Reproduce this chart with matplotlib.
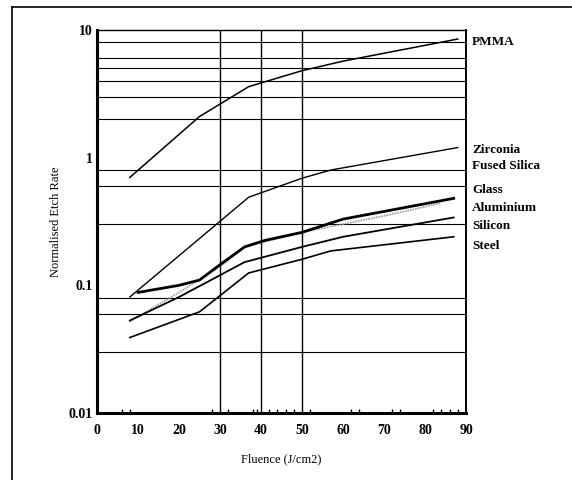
import matplotlib
matplotlib.use("Agg")
import matplotlib.pyplot as plt
from matplotlib.lines import Line2D

plt.rcParams['font.family'] = ['Liberation Serif', 'DejaVu Serif']

# fluence (J/cm2) and normalised etch rate
pmma_x = [8, 25, 37, 50, 60, 88]
pmma_y = [0.70, 2.1, 3.6, 4.8, 5.7, 8.5]

zirconia_x = [8, 37, 50, 57, 88]
zirconia_y = [0.081, 0.49, 0.69, 0.80, 1.2]

glass_x = [10, 20, 25, 30, 36, 41, 50, 60, 87]
glass_y = [0.088, 0.10, 0.11, 0.145, 0.20, 0.225, 0.26, 0.33, 0.48]

alu_x = [8, 20, 30, 36, 50, 70, 84]
alu_y = [0.052, 0.088, 0.14, 0.20, 0.26, 0.35, 0.44]

silicon_x = [8, 20, 36, 50, 60, 87]
silicon_y = [0.053, 0.081, 0.152, 0.20, 0.24, 0.34]

steel_x = [8, 25, 37, 50, 57, 87]
steel_y = [0.039, 0.062, 0.125, 0.16, 0.186, 0.24]

# the odd grid of the original figure
hgrid = [8, 6, 5, 4, 3, 2, 0.8, 0.6, 0.3, 0.08, 0.06, 0.03]
vgrid = [30, 40, 50]
minor_x = [6, 8, 28, 32, 38, 39, 42, 44, 46, 48, 52, 62, 64, 72, 74, 82, 84, 86, 88]

labels = ["PMMA", "Zirconia", "Fused Silica", "Glass", "Aluminium", "Silicon", "Steel"]
label_y = [42, 150, 166, 190, 208, 226, 246]  # pixel rows of the side labels

fig = plt.figure(figsize=(5.72, 4.80), dpi=100)
ax = fig.add_axes([97 / 572, 1 - 413 / 480, (466 - 97) / 572, (413 - 30) / 480])

for v in hgrid:
    ax.axhline(v, color='black', lw=0.8, zorder=1)
for v in vgrid:
    ax.axvline(v, color='black', lw=1.0, zorder=1)

ax.plot(pmma_x, pmma_y, color='black', lw=1.1, zorder=3)
ax.plot(zirconia_x, zirconia_y, color='black', lw=1.0, zorder=3)
ax.plot(alu_x, alu_y, color='#9a9a9a', lw=1.2, ls=(0, (1, 0.6)), zorder=3)
ax.plot(glass_x, glass_y, color='black', lw=2.0, zorder=4)
ax.plot(silicon_x, silicon_y, color='black', lw=1.3, zorder=3)
ax.plot(steel_x, steel_y, color='black', lw=1.2, zorder=3)

ax.set_yscale('log')
ax.set_xlim(0, 90)
ax.set_ylim(0.01, 10)
ax.set_xticks(range(0, 91, 10))
ax.set_xticks(minor_x, minor=True)
ax.set_yticks([0.01, 0.1, 1, 10])
ax.set_yticklabels(['0.01', '0.1', '1', '10'])
ax.yaxis.set_minor_locator(matplotlib.ticker.NullLocator())
ax.tick_params(axis='x', which='major', length=0, pad=8, labelsize=10)
ax.tick_params(axis='x', which='minor', direction='in', length=3, width=1)
ax.tick_params(axis='y', length=0, pad=3, labelsize=10)
for t in ax.get_xticklabels() + ax.get_yticklabels():
    t.set_fontweight('bold')

ax.spines['left'].set_linewidth(2.2)
ax.spines['bottom'].set_linewidth(2.2)
ax.spines['right'].set_linewidth(1.4)
ax.spines['top'].set_linewidth(1.0)

ax.set_xlabel('Fluence (J/cm2)', fontsize=9, labelpad=12)
ax.set_ylabel('Normalised Etch Rate', fontsize=9, labelpad=5)

for name, py in zip(labels, label_y):
    fig.text(472 / 572, 1 - py / 480, name, fontsize=9.5, fontweight='bold', va='center', ha='left')

# frame of the scanned page
fig.add_artist(Line2D([12 / 572, 12 / 572], [0, 1 - 7 / 480], color='black', lw=1.2))
fig.add_artist(Line2D([12 / 572, 1], [1 - 7 / 480, 1 - 7 / 480], color='black', lw=1.2))

fig.savefig('out.png', dpi=100)
